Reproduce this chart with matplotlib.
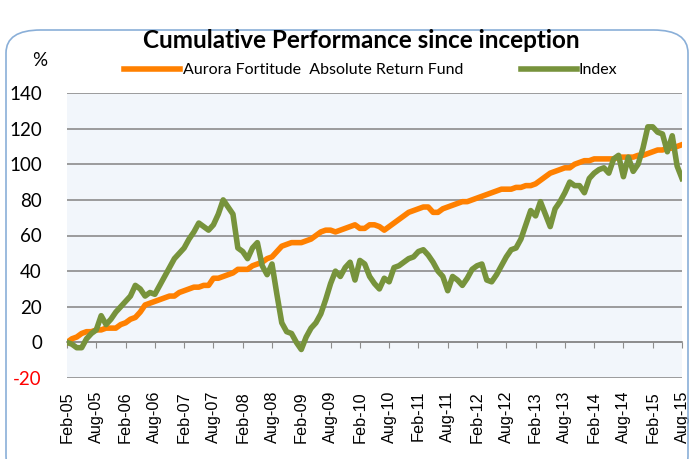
import matplotlib
matplotlib.use("Agg")
import matplotlib.pyplot as plt
from matplotlib.patches import FancyBboxPatch

# monthly cumulative performance, Feb-05 .. Aug-15 (%)
fund = [0, 2, 3, 5, 6, 6, 7, 7, 8, 8, 8, 10, 11, 13, 14, 17, 21, 22, 23, 24,
        25, 26, 26, 28, 29, 30, 31, 31, 32, 32, 36, 36, 37, 38, 39, 41, 41, 41, 43, 44,
        45, 47, 48, 51, 54, 55, 56, 56, 56, 57, 58, 60, 62, 63, 63, 62, 63, 64, 65, 66,
        64, 64, 66, 66, 65, 63, 65, 67, 69, 71, 73, 74, 75, 76, 76, 73, 73, 75, 76, 77,
        78, 79, 79, 80, 81, 82, 83, 84, 85, 86, 86, 86, 87, 87, 88, 88, 89, 91, 93, 95,
        96, 97, 98, 98, 100, 101, 102, 102, 103, 103, 103, 103, 103, 104, 104, 104, 104, 105, 105, 106,
        107, 108, 108, 109, 109, 110, 111]

index = [0, -1, -3, -3, 2, 5, 7, 15, 10, 13, 17, 20, 23, 26, 32, 30, 26, 28, 27, 32,
         37, 42, 47, 50, 53, 58, 62, 67, 65, 63, 66, 72, 80, 76, 72, 53, 51, 47, 53, 56,
         43, 38, 44, 27, 11, 6, 5, 0, -4, 3, 8, 11, 16, 24, 33, 40, 37, 42, 45, 35,
         46, 44, 37, 33, 30, 36, 34, 42, 43, 45, 47, 48, 51, 52, 49, 45, 40, 37, 29, 37,
         35, 32, 36, 41, 43, 44, 35, 34, 38, 43, 48, 52, 53, 58, 66, 74, 71, 79, 72, 65,
         75, 79, 84, 90, 88, 88, 84, 92, 95, 97, 98, 95, 103, 105, 93, 104, 96, 100, 109, 121,
         121, 118, 117, 107, 116, 99, 92]

tick_labels = ["Feb-05", "Aug-05", "Feb-06", "Aug-06", "Feb-07", "Aug-07", "Feb-08",
               "Aug-08", "Feb-09", "Aug-09", "Feb-10", "Aug-10", "Feb-11", "Aug-11",
               "Feb-12", "Aug-12", "Feb-13", "Aug-13", "Feb-14", "Aug-14", "Feb-15", "Aug-15"]

y_ticks = [-20, 0, 20, 40, 60, 80, 100, 120, 140]

W, H = 693, 459
fig = plt.figure(figsize=(W / 100, H / 100), dpi=100)
fig.patch.set_facecolor("white")

# rounded chart border
border = FancyBboxPatch((6 / W, -20 / H), 682 / W, 449 / H,
                        boxstyle="round,pad=0,rounding_size=0.05",
                        transform=fig.transFigure, facecolor="none",
                        edgecolor="#8AAFD8", linewidth=1.2)
fig.add_artist(border)

ax = fig.add_axes([67 / W, 1 - 378 / H, 615 / W, 285 / H])
ax.set_facecolor("#F2F6FB")

x = list(range(len(fund)))
ax.plot(x, fund, color="#FF8000", lw=4, solid_joinstyle="round",
        label="Aurora Fortitude  Absolute Return Fund", zorder=3)
ax.plot(x, index, color="#77933C", lw=4, solid_joinstyle="round",
        label="Index", zorder=4)

ax.set_xlim(0, len(fund) - 1)
ax.set_ylim(-20, 140)
ax.grid(axis="y", color="#8C8C8C", lw=1.2)
ax.set_axisbelow(True)
for s in ["left", "right", "top"]:
    ax.spines[s].set_visible(False)
ax.spines["bottom"].set_position(("data", 0))
ax.spines["bottom"].set_color("#8C8C8C")
ax.spines["bottom"].set_linewidth(1.2)

ax.set_xticks(range(0, len(fund), 6))
ax.set_xticklabels(tick_labels, rotation=90, fontsize=11.7, family="Liberation Sans")
ax.tick_params(axis="x", direction="out", length=4, color="#8C8C8C", pad=31)

ax.set_yticks(y_ticks)
ax.set_yticklabels([str(v) for v in y_ticks], family="Lato", fontsize=13.5)
ax.tick_params(axis="y", length=0, pad=18)
for lab, v in zip(ax.get_yticklabels(), y_ticks):
    lab.set_color("red" if v < 0 else "black")

fig.text(361 / W, 1 - 40 / H, "Cumulative Performance since inception",
         ha="center", va="center", fontsize=17.5, fontweight="bold", family="Lato")
fig.text(40 / W, 1 - 60 / H, "%", ha="center", va="center", fontsize=13.5, family="Lato")

fig.legend(loc="center", bbox_to_anchor=(371 / W, 1 - 70 / H), ncol=2, frameon=False,
           prop={"family": "Lato", "size": 11.5}, handlelength=3.5, handletextpad=0.15,
           columnspacing=3.6, borderpad=0)

fig.savefig("out.png", dpi=100)
